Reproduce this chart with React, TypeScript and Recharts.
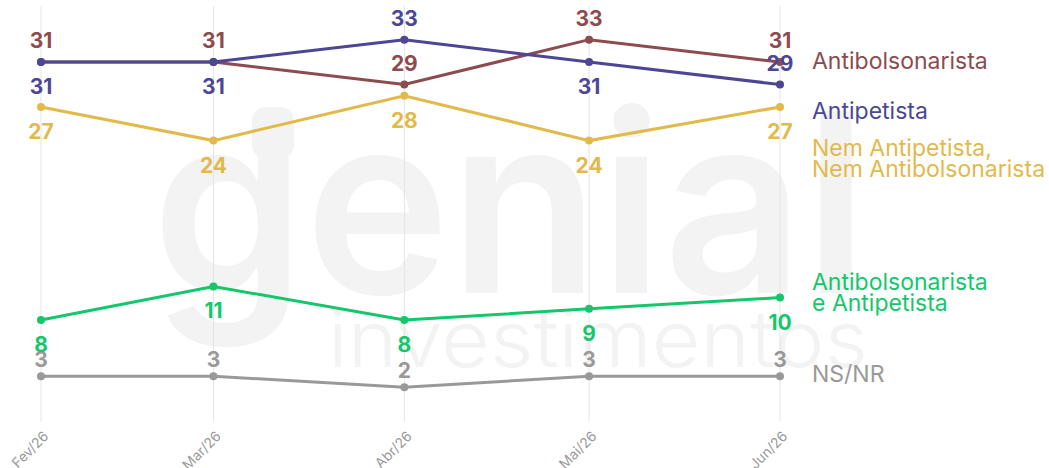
import React from "react";
import { LineChart, Line, XAxis, YAxis, CartesianGrid, LabelList } from "recharts";

// ---- data ----
const monthDates = ["2026-02-01", "2026-03-01", "2026-04-01", "2026-05-01", "2026-06-01"];
const tickLabels = ["Fev/26", "Mar/26", "Abr/26", "Mai/26", "Jun/26"];
const antibolsonarista = [31, 31, 29, 33, 31];
const antipetista = [31, 31, 33, 31, 29];
const nemNem = [27, 24, 28, 24, 27];
const ambos = [8, 11, 8, 9, 10];
const nsnr = [3, 3, 2, 3, 3];
// label placement for the Antipetista series (above / below its point)
const antipetistaLabelAbove = [false, false, true, false, true];

const timestamps = monthDates.map((d) => Date.parse(d + "T00:00:00Z"));
const data = timestamps.map((t, i) => ({
  t,
  antibolsonarista: antibolsonarista[i],
  antipetista: antipetista[i],
  nemNem: nemNem[i],
  ambos: ambos[i],
  nsnr: nsnr[i],
}));

const C_BROWN = "#8c4b4f";
const C_PURPLE = "#4c4695";
const C_YELLOW = "#e2b94b";
const C_GREEN = "#14c76b";
const C_GRAY = "#999999";
const FONT = "Inter, 'Open Sans', sans-serif";

const makeLabel =
  (color: string, isAbove: (i: number) => boolean, topOffset = 14) =>
  (props: any) => {
    const x = props.x ?? props.viewBox?.x;
    const y = props.y ?? props.viewBox?.y;
    if (x == null || y == null) return null;
    const above = isAbove(props.index);
    return (
      <text
        x={x}
        y={above ? y - topOffset : y + 32}
        textAnchor="middle"
        fill={color}
        fontSize={21}
        fontWeight={700}
        fontFamily={FONT}
      >
        {props.value}
      </text>
    );
  };

const XTick = (props: any) => {
  const { x, y, payload } = props;
  const i = timestamps.indexOf(payload.value);
  const px = x + 8.5;
  const py = y + 16;
  return (
    <text
      x={px}
      y={py}
      transform={`rotate(-45, ${px}, ${py})`}
      textAnchor="end"
      fill="#9a9a9a"
      fontSize={14}
      fontFamily={FONT}
    >
      {tickLabels[i] ?? ""}
    </text>
  );
};

const legendItems: { lines: string[]; color: string; y: number }[] = [
  { lines: ["Antibolsonarista"], color: C_BROWN, y: 69 },
  { lines: ["Antipetista"], color: C_PURPLE, y: 119 },
  { lines: ["Nem Antipetista,", "Nem Antibolsonarista"], color: C_YELLOW, y: 156 },
  { lines: ["Antibolsonarista", "e Antipetista"], color: C_GREEN, y: 290 },
  { lines: ["NS/NR"], color: C_GRAY, y: 382 },
];

export default function App() {
  return (
    <div style={{ position: "absolute", left: 0, top: 0, width: 1049, height: 468, background: "#ffffff" }}>
      <svg width={1049} height={468} style={{ position: "absolute", left: 0, top: 0 }}>
        <g fill="#f3f3f3" fontFamily={FONT}>
          <rect x={252} y={107} width={42} height={52} rx={14} />
          <text x={152} y={293} fontSize={250} fontWeight={600} textLength={716} lengthAdjust="spacingAndGlyphs">
            genial
          </text>
          <text x={328} y={367} fontSize={78} fontWeight={300} textLength={540} lengthAdjust="spacingAndGlyphs">
            investimentos
          </text>
        </g>
      </svg>
      <div style={{ position: "absolute", left: 0, top: 0 }}>
        <LineChart width={1049} height={468} data={data} margin={{ top: 6, right: 269, bottom: 0, left: 41 }}>
          <CartesianGrid horizontal={false} vertical={true} stroke="#e4e4e4" />
          <XAxis
            dataKey="t"
            type="number"
            scale="time"
            domain={["dataMin", "dataMax"]}
            ticks={timestamps}
            axisLine={false}
            tickLine={false}
            tickSize={0}
            tickMargin={0}
            height={47}
            interval={0}
            tick={<XTick />}
          />
          <YAxis hide domain={[-1, 36]} />
          <Line dataKey="nsnr" stroke={C_GRAY} strokeWidth={3} dot={{ r: 4, fill: C_GRAY, stroke: "none" }} isAnimationActive={false}>
            <LabelList dataKey="nsnr" content={makeLabel(C_GRAY, () => true, 9)} />
          </Line>
          <Line dataKey="ambos" stroke={C_GREEN} strokeWidth={3} dot={{ r: 4, fill: C_GREEN, stroke: "none" }} isAnimationActive={false}>
            <LabelList dataKey="ambos" content={makeLabel(C_GREEN, () => false)} />
          </Line>
          <Line dataKey="nemNem" stroke={C_YELLOW} strokeWidth={3} dot={{ r: 4, fill: C_YELLOW, stroke: "none" }} isAnimationActive={false}>
            <LabelList dataKey="nemNem" content={makeLabel(C_YELLOW, () => false)} />
          </Line>
          <Line dataKey="antibolsonarista" stroke={C_BROWN} strokeWidth={3} dot={{ r: 4, fill: C_BROWN, stroke: "none" }} isAnimationActive={false}>
            <LabelList dataKey="antibolsonarista" content={makeLabel(C_BROWN, () => true)} />
          </Line>
          <Line dataKey="antipetista" stroke={C_PURPLE} strokeWidth={3} dot={{ r: 4, fill: C_PURPLE, stroke: "none" }} isAnimationActive={false}>
            <LabelList dataKey="antipetista" content={makeLabel(C_PURPLE, (i) => antipetistaLabelAbove[i])} />
          </Line>
        </LineChart>
      </div>
      <svg width={1049} height={468} style={{ position: "absolute", left: 0, top: 0, pointerEvents: "none" }}>
        {legendItems.map((item) => (
          <text key={item.lines.join("|") + item.y} x={812} y={item.y} fill={item.color} fontSize={23} fontFamily={FONT}>
            {item.lines.map((ln, k) => (
              <tspan key={k} x={812} dy={k === 0 ? 0 : 21}>
                {ln}
              </tspan>
            ))}
          </text>
        ))}
      </svg>
    </div>
  );
}
